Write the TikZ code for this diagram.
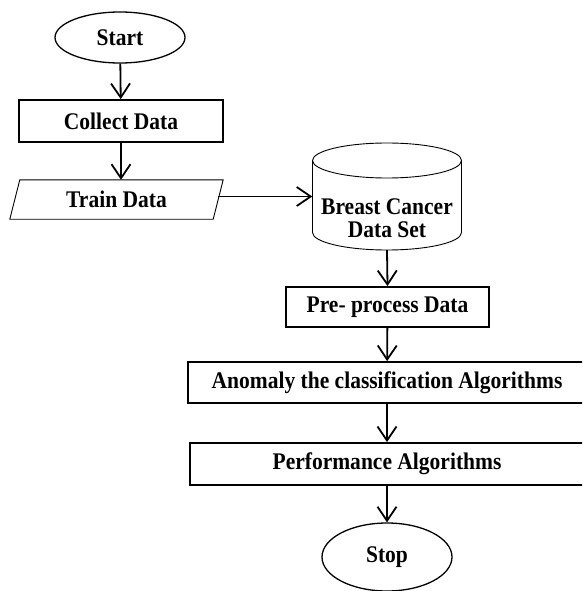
\documentclass[tikz,border=0pt]{standalone}
\usepackage{fontspec}
\usepackage{graphicx}
\setmainfont{Liberation Serif}
\usetikzlibrary{arrows.meta,shapes.geometric}
\newcommand\vst[1]{\scalebox{1.01}[1.12]{#1}}
\begin{document}
\begin{tikzpicture}[x=1pt,y=-1pt,
  every node/.style={font=\fontsize{21.3}{23}\selectfont\bfseries, inner sep=0pt},
  procbox/.style={draw, line width=1.8pt, rectangle, minimum height=40pt},
  term/.style={draw, line width=1.3pt, ellipse},
  flow/.style={line width=1.8pt, -{Straight Barb[length=14pt,width=19pt,line width=1.8pt]}},
  thin/.style={line width=0.9pt}]
\path[use as bounding box, clip] (0,0) rectangle (582,591);
\node[term, minimum width=130pt, minimum height=51pt] (start) at (120,37.5) {\raisebox{-3pt}{\vst{Start}}};
\node[procbox, minimum width=204pt, minimum height=42pt] (collect) at (121,121) {\vst{Collect Data}};
\node[minimum width=203pt, minimum height=39pt] (train) at (116.5,199.5) {\raisebox{-5pt}{\vst{Train Data}}};
\draw[thin] ([xshift=5pt]train.north west) -- ([xshift=5pt]train.north east)
  -- ([xshift=-5pt]train.south east) -- ([xshift=-5pt]train.south west) -- cycle;
\node[minimum width=149pt, minimum height=107pt] (db) at (387,196.5) {};
\node[align=center] (dbtxt) at (387,218.5) {\vst{Breast Cancer}\\\vst{Data Set}};
\draw[thin] (387,160.5) ellipse [x radius=74.5pt, y radius=17.5pt];
\draw[thin] (312.5,160.5) -- (312.5,232.5) arc[start angle=180, end angle=360, x radius=74.5pt, y radius=17.5pt] -- (461.5,160.5);
\node[procbox, minimum width=203pt] (pre) at (387.5,307) {\vst{Pre- process Data}};
\node[procbox, minimum width=398pt, minimum height=41pt] (anom) at (387,382.5) {\vst{Anomaly the classification Algorithms}};
\node[procbox, minimum width=394pt, minimum height=42pt] (perf) at (387,464) {\vst{Performance Algorithms}};
\node[term, minimum width=130pt, minimum height=68pt] (stop) at (387,557) {\vst{Stop}};
\draw[flow] (start) -- (collect);
\draw[flow] (collect.south) -- (collect.south |- train.north);
\draw[flow] (train.east |- db.west) -- (db.west);
\draw[flow] (db.south) -- (pre.north);
\draw[flow] (pre) -- (anom);
\draw[flow] (anom) -- (perf);
\draw[flow] (perf) -- (stop);
\end{tikzpicture}
\end{document}
